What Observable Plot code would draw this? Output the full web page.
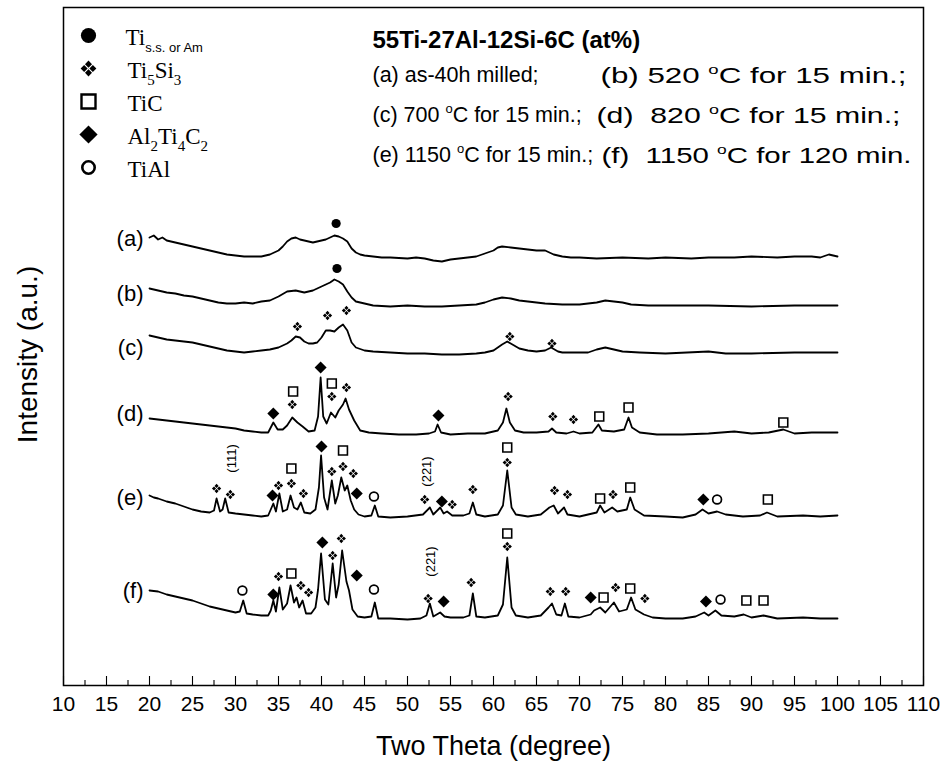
<!DOCTYPE html>
<html><head><meta charset="utf-8">
<script src="https://cdn.jsdelivr.net/npm/d3@7"></script>
<script src="https://cdn.jsdelivr.net/npm/@observablehq/plot@0.6"></script>
<style>
body{margin:0;background:#fff;}
#chart{width:943px;height:765px;}
</style></head><body><div id="chart"></div>
<script>
// ---------------- data ----------------
const traceNames = ["(a)", "(b)", "(c)", "(d)", "(e)", "(f)"];
// vertical offset of each pattern (a.u.)
const baselines = [427, 379, 331, 251, 168, 66];
// level of each pattern label (a.u.)
const labelLevels = [447, 392, 338, 272, 188, 95];

// [two-theta (deg), intensity above the pattern's background (a.u.)]
const traceA = [[20,21],[20.5,23],[21,19],[21.5,21],[22,18],[23,16],[24,14],[25,12],[26,10],[27,8],[28,6],[29,4],[30,3],[31,2],[32,2],[33,2],[34,4],[35,8],[35.5,12],[36,17],[36.5,20],[37,21],[37.5,19],[38,18],[38.5,17],[39,16],[39.5,17],[40,18],[40.5,19],[41,21],[41.5,23],[42,22],[42.5,20],[43,17],[43.5,10],[44,6],[44.5,4],[45,3],[46,2],[47,1],[48,1],[50,0],[51,1],[52,0],[53,-2],[54,-3],[55,-1],[56,0],[57,1],[58,2],[59,5],[60,8],[60.5,11],[61,12],[62,11],[63,10],[64,9],[65,8],[66,8],[67,4],[68,2],[69,1],[70,1],[72,0],[75,1],[78,0],[80,1],[83,0],[85,1],[88,1],[90,2],[93,1],[95,2],[97,2],[98,1],[99,4],[100,2]];
const traceB = [[20,18],[21,16],[22,14],[23,13],[24,11],[25,10],[26,8],[27,6],[28,4],[29,3],[30,3],[31,4],[32,3],[33,5],[34,6],[35,10],[36,15],[37,16],[38,14],[39,16],[40,20],[41,24],[41.5,27],[42,25],[42.5,22],[43,15],[43.5,9],[44,5],[45,3],[46,1],[48,0],[50,1],[52,0],[54,0],[56,1],[58,2],[59,4],[60,7],[61,9],[62,8],[63,6],[64,5],[65,4],[66,3],[68,2],[70,2],[72,4],[73,6],[74,5],[75,4],[76,2],[78,1],[80,1],[85,1],[90,0],[95,1],[100,1]];
const traceC = [[20,19],[21,17],[22,15],[23,14],[24,13],[25,12],[26,10],[27,8],[28,6],[29,4],[30,3],[31,2],[32,3],[33,4],[34,5],[35,7],[36,11],[36.5,14],[37,18],[37.5,17],[38,13],[38.5,11],[39,11],[39.5,12],[40,17],[40.5,24],[41,24],[41.5,23],[42,27],[42.5,30],[43,24],[43.5,12],[44,7],[45,4],[46,3],[48,2],[50,1],[52,1],[54,0],[56,0],[58,1],[59,2],[60,4],[61,10],[61.6,13],[62,11],[63,6],[64,4],[65,3],[66,4],[66.7,7],[67.5,3],[68,2],[70,2],[71,2],[72,5],[73,7],[74,5],[75,3],[77,2],[80,1],[85,3],[87,1],[90,1],[95,2],[100,2]];
const traceD = [[20,16],[21,15],[22,14],[23,13],[24,12],[25,11],[26,10],[27,9],[28,8],[29,7],[30,6],[31,4],[32,3],[33,2],[33.8,2],[34.4,12],[34.9,5],[35.5,5],[36,9],[36.6,17],[37.2,12],[37.8,8],[38.5,3],[39.2,4],[39.6,18],[39.9,57],[40.2,18],[40.6,11],[41.1,22],[41.6,17],[42,24],[42.5,30],[42.8,36],[43.2,25],[43.8,14],[44.5,4],[45.5,2],[47,1],[49,0],[51,0],[52.5,1],[53.2,3],[53.5,10],[53.9,2],[55,0],[57,1],[59,1],[60.5,4],[61.1,12],[61.5,26],[61.9,12],[62.5,4],[63.5,2],[65,2],[66.4,3],[66.8,6],[67.3,2],[68.5,1],[69.3,3],[70,1],[71.5,2],[72.2,10],[72.6,4],[74,3],[75.2,5],[75.7,17],[76.1,7],[77,2],[79,0],[82,0],[85,1],[88,3],[90,1],[92,2],[93.7,5],[95,1],[97,2],[100,2]];
const traceE = [[20,22],[20.5,20],[21,19],[22,16],[23,14],[24,11],[25,8],[26,6],[27,5],[27.5,7],[27.8,19],[28.2,6],[28.5,8],[28.8,19],[29.2,5],[30,4],[31,3],[32,2],[33,1],[33.8,2],[34.1,8],[34.4,14],[34.7,6],[35.1,24],[35.5,6],[36,8],[36.4,22],[36.8,10],[37.2,8],[37.6,15],[38,5],[38.7,4],[39.3,8],[39.7,30],[39.95,62],[40.3,20],[40.7,8],[41.2,37],[41.6,14],[41.9,22],[42.3,40],[42.7,27],[43,32],[43.4,17],[43.8,8],[44.3,3],[45,1],[45.8,2],[46.2,12],[46.6,1],[48,0],[50,1],[51.8,3],[52.6,10],[53,3],[53.8,10],[54.2,4],[54.6,6],[55.2,2],[56.5,2],[57.2,4],[57.6,15],[58,3],[59,1],[60.5,3],[61.1,12],[61.6,47],[62.1,10],[62.6,3],[64,1],[65.5,3],[66.5,10],[67,12],[67.5,4],[68.2,10],[68.6,3],[70,1],[71,3],[72,5],[72.4,12],[72.9,5],[73.8,10],[74.4,6],[75.5,8],[75.9,20],[76.4,8],[77.5,2],[80,1],[82,0],[83.5,3],[84.3,8],[85,4],[86,6],[87,3],[89,1],[91,2],[91.8,5],[93,1],[96,2],[98,1],[100,2]];
const traceF = [[20,29],[21,28],[22,25],[23,23],[24,21],[25,19],[26,16],[27,13],[28,11],[29,9],[30,7],[30.5,8],[30.9,19],[31.3,6],[32,5],[33,4],[33.8,4],[34.1,9],[34.4,19],[34.7,8],[35.1,32],[35.5,10],[36,16],[36.4,34],[36.8,17],[37.1,22],[37.4,12],[37.8,19],[38.2,6],[38.8,6],[39.3,12],[39.6,30],[39.95,66],[40.4,20],[40.8,15],[41.3,56],[41.7,22],[42,35],[42.4,69],[42.9,38],[43.2,29],[43.6,10],[44.2,3],[45,2],[45.8,3],[46.2,17],[46.6,1],[48,1],[50,0],[51.5,1],[52.2,4],[52.6,16],[53,3],[53.8,7],[54.3,3],[55,2],[56.5,2],[57.2,4],[57.6,26],[58,3],[59,2],[60.5,4],[61.1,15],[61.6,62],[62.1,12],[62.6,4],[64,2],[65.5,4],[66.4,12],[66.8,16],[67.3,5],[67.9,4],[68.3,16],[68.7,3],[70,2],[71.3,5],[71.7,9],[72.4,12],[73,7],[74,17],[74.6,8],[75.5,10],[76,22],[76.5,10],[77.5,5],[78.5,2],[80,1],[82,1],[83.5,3],[84.5,7],[85,4],[85.8,9],[86.5,4],[88,3],[89.1,5],[90,2],[91.4,4],[93,1],[96,2],[98,1],[100,1]];
const traces = [traceA, traceB, traceC, traceD, traceE, traceF];

// phase markers: [two-theta, level (a.u.), phase]
// phases: ti = Ti s.s./Am, ss = Ti5Si3, tic = TiC, al = Al2Ti4C2, tial = TiAl
const markers = [
  [41.7,462,"ti"],[41.8,417,"ti"],
  [37.2,359,"ss"],[40.7,370,"ss"],[42.9,375,"ss"],[61.9,349,"ss"],[66.8,342,"ss"],
  [34.4,272,"al"],[36.7,294,"tic"],[36.6,281,"ss"],[39.9,318,"al"],[41.2,302,"tic"],[41.2,289,"ss"],[42.9,298,"ss"],[53.6,270,"al"],[61.7,289,"ss"],[66.9,269,"ss"],[69.3,266,"ss"],[72.3,269,"tic"],[75.7,278,"tic"],[93.7,263,"tic"],
  [27.8,197,"ss"],[29.4,191,"ss"],[34.3,190,"al"],[35.0,200,"ss"],[36.5,217,"tic"],[36.5,202,"ss"],[37.9,192,"ss"],[40.0,239,"al"],[41.2,214,"ss"],[42.5,235,"tic"],[42.5,219,"ss"],[43.7,212,"ss"],[44.1,192,"al"],[46.1,189,"tial"],[52.0,186,"ss"],[54.0,184,"al"],[55.2,181,"ss"],[57.6,196,"ss"],[61.6,238,"tic"],[61.6,223,"ss"],[67.1,195,"ss"],[68.6,191,"ss"],[72.4,187,"tic"],[73.9,191,"ss"],[75.9,198,"tic"],[84.4,186,"al"],[86.0,186,"tial"],[91.9,186,"tic"],
  [30.8,95,"tial"],[34.4,91,"al"],[35.0,109,"ss"],[36.5,112,"tic"],[37.6,100,"ss"],[38.5,93,"ss"],[40.1,143,"al"],[41.3,130,"ss"],[42.3,147,"ss"],[44.1,110,"al"],[46.1,96,"tial"],[52.4,87,"ss"],[54.2,84,"al"],[57.4,103,"ss"],[61.6,152,"tic"],[61.6,139,"ss"],[66.6,94,"ss"],[68.4,94,"ss"],[71.3,88,"al"],[72.8,88,"tic"],[74.2,98,"ss"],[75.9,97,"tic"],[77.6,87,"ss"],[84.7,84,"al"],[86.4,86,"tial"],[89.4,85,"tic"],[91.4,85,"tic"]
];

// reflection indices written beside peaks: [label, two-theta, level]
const hkl = [["(111)", 29.6, 227], ["(221)", 52.3, 214], ["(221)", 52.7, 124]];

// legend
const legendPhases = ["ti", "ss", "tic", "al", "tial"];
const legendLabels = ["Ti_{s.s. or Am}", "Ti_5Si_3", "TiC", "Al_2Ti_4C_2", "TiAl"];

// header
const headerTitle = "55Ti-27Al-12Si-6C (at%)";
const headerLeft = ["(a) as-40h milled;", "(c) 700 ^oC for 15 min.;", "(e) 1150 ^oC for 15 min.;"];
const headerRight = ["(b) 520 ^oC for 15 min.;", "(d)  820 ^oC for 15 min.;", "(f)  1150 ^oC for 120 min."];

const xTicks = d3.range(10, 111, 5);
const xMinor = d3.range(12.5, 110, 5);
const xDomain = [10, 110];
const yDomain = [0, 678];
const scanStart = 20;

// ---------------- symbols ----------------
const ti5si3Symbol = {
  draw(ctx, size) {
    const s = Math.sqrt(size), d = 0.28 * s, h = 0.225 * s;
    for (const [cx, cy] of [[0, -d], [d, 0], [0, d], [-d, 0]]) {
      ctx.moveTo(cx, cy - h); ctx.lineTo(cx + h, cy); ctx.lineTo(cx, cy + h); ctx.lineTo(cx - h, cy); ctx.closePath();
    }
  }
};
const phaseStyle = {
  ti:   {symbol: "circle", fill: "black", stroke: "none", r: 4.6, lr: 7.6, sw: 0},
  ss:   {symbol: ti5si3Symbol, fill: "black", stroke: "none", r: 5.2, lr: 8.8, sw: 0},
  tic:  {symbol: "square", fill: "white", stroke: "black", r: 5.0, lr: 7.9, sw: 1.6, lsw: 2.4},
  al:   {symbol: "diamond2", fill: "black", stroke: "none", r: 5.4, lr: 8.2, sw: 0},
  tial: {symbol: "circle", fill: "white", stroke: "black", r: 4.4, lr: 6.2, sw: 1.7, lsw: 2.6}
};

// ---------------- marks ----------------
const H = 765, W = 943, mTop = 7, mBottom = 80, mLeft = 63, mRight = 20;
const frameH = H - mTop - mBottom;
const sans = "Liberation Sans, Arial, Helvetica, sans-serif";
const serif = "Liberation Serif, Times New Roman, serif";

const lineData = traces.flatMap((t, i) => t.map(([x, h]) => ({x, y: baselines[i] + h, k: i})));

const marks = [
  Plot.tickX(xTicks, {x: d => d, insetTop: frameH - 9, stroke: "black", strokeWidth: 1.1}),
  Plot.tickX(xMinor, {x: d => d, insetTop: frameH - 5, stroke: "black", strokeWidth: 1.1}),
  Plot.axisX({ticks: xTicks, tickSize: 0, tickPadding: 11, fontSize: 21, fontFamily: sans, label: null, tickFormat: d => String(d)}),
  Plot.text(["Two Theta (degree)"], {frameAnchor: "bottom", lineAnchor: "middle", textAnchor: "middle", dy: 61, fontSize: 27, fontFamily: sans, fill: "black"}),
  Plot.text(["Intensity (a.u.)"], {frameAnchor: "left", lineAnchor: "middle", textAnchor: "middle", dx: -35, dy: 8, rotate: -90, fontSize: 28, fontFamily: sans, fill: "black"}),
  Plot.line(lineData, {x: "x", y: "y", z: "k", stroke: "black", strokeWidth: 1.8, strokeLinejoin: "round"}),
  Plot.text(traceNames, {x: () => scanStart, y: (d, i) => labelLevels[i], dx: -6, textAnchor: "end", lineAnchor: "middle", fontSize: 22, fontFamily: sans, fill: "black"}),
  Plot.text(hkl, {x: d => d[1], y: d => d[2], text: d => d[0], rotate: -90, fontSize: 13, fontFamily: sans, fill: "black"})
];

for (const ph of Object.keys(phaseStyle)) {
  const st = phaseStyle[ph];
  marks.push(Plot.dot(markers.filter(m => m[2] === ph), {x: d => d[0], y: d => d[1], symbol: st.symbol, r: st.r, fill: st.fill, stroke: st.stroke, strokeWidth: st.sw}));
}
legendPhases.forEach((ph, i) => {
  const st = phaseStyle[ph];
  marks.push(Plot.dot([ph], {frameAnchor: "top-left", dx: 25, dy: 28 + i * 33, symbol: st.symbol, r: st.lr, fill: st.fill, stroke: st.stroke, strokeWidth: st.lsw || 0}));
  marks.push(Plot.text([legendLabels[i]], {frameAnchor: "top-left", lineAnchor: "middle", dx: i === 0 ? 62 : 64, dy: 30 + i * 33, textAnchor: "start", fontSize: 23, fontFamily: serif, fill: "black"}));
});
marks.push(Plot.text([headerTitle], {frameAnchor: "top-left", lineAnchor: "middle", dx: 309, dy: 33, textAnchor: "start", fontSize: 24, fontWeight: "bold", fontFamily: sans, fill: "black"}));
headerLeft.forEach((t, i) => marks.push(Plot.text([t], {frameAnchor: "top-left", lineAnchor: "middle", dx: 309, dy: 68 + i * 40, textAnchor: "start", fontSize: 21.5, fontFamily: sans, fill: "black"})));
headerRight.forEach((t, i) => marks.push(Plot.text([t], {frameAnchor: "top-left", lineAnchor: "middle", dx: [537, 533, 538][i], dy: 68 + i * 40, textAnchor: "start", fontSize: 22, fontFamily: sans, fill: "black"})));
marks.push(Plot.frame({stroke: "black", strokeWidth: 1.5}));

const svg = Plot.plot({
  width: W, height: H, marginTop: mTop, marginBottom: mBottom, marginLeft: mLeft, marginRight: mRight,
  style: {fontFamily: sans, color: "black", background: "white", overflow: "visible"},
  x: {domain: xDomain, axis: null},
  y: {domain: yDomain, axis: null},
  marks
});

// ---------------- sub/superscripts ----------------
const NS = "http://www.w3.org/2000/svg";
function richText(el, re, sizePx, shift, family) {
  const txt = el.textContent;
  el.textContent = "";
  let last = 0, m, pending = 0;
  const add = (s, small) => {
    const t = document.createElementNS(NS, "tspan");
    t.textContent = s;
    if (small) {
      t.setAttribute("font-size", sizePx);
      if (family) t.setAttribute("font-family", family);
      t.setAttribute("dy", shift);
      pending = -shift;
    } else if (pending) {
      t.setAttribute("dy", pending);
      pending = 0;
    }
    el.appendChild(t);
  };
  while ((m = re.exec(txt))) {
    if (m.index > last) add(txt.slice(last, m.index), false);
    add(m[1] !== undefined ? m[1] : m[2], true);
    last = re.lastIndex;
  }
  if (last < txt.length) add(txt.slice(last), false);
}
// the right-hand column of the header is set wider in the reference
const rightWidths = {"(b)": 306, "(d)": 304, "(f)": 310};
svg.querySelectorAll("text").forEach(el => {
  const txt = el.textContent;
  if (txt.includes("_")) {
    const isSS = txt.includes("s.s.");
    richText(el, /_\{([^}]*)\}|_(\d)/g, isSS ? 13 : 15, 7, isSS ? sans : null);
  } else if (txt.includes("^o")) {
    richText(el, /\^(o)/g, 13, -9, null);
    const key = txt.slice(0, 3);
    if (rightWidths[key]) {
      el.setAttribute("textLength", rightWidths[key]);
      el.setAttribute("lengthAdjust", "spacingAndGlyphs");
    }
  }
});

document.getElementById("chart").appendChild(svg);
</script></body></html>
